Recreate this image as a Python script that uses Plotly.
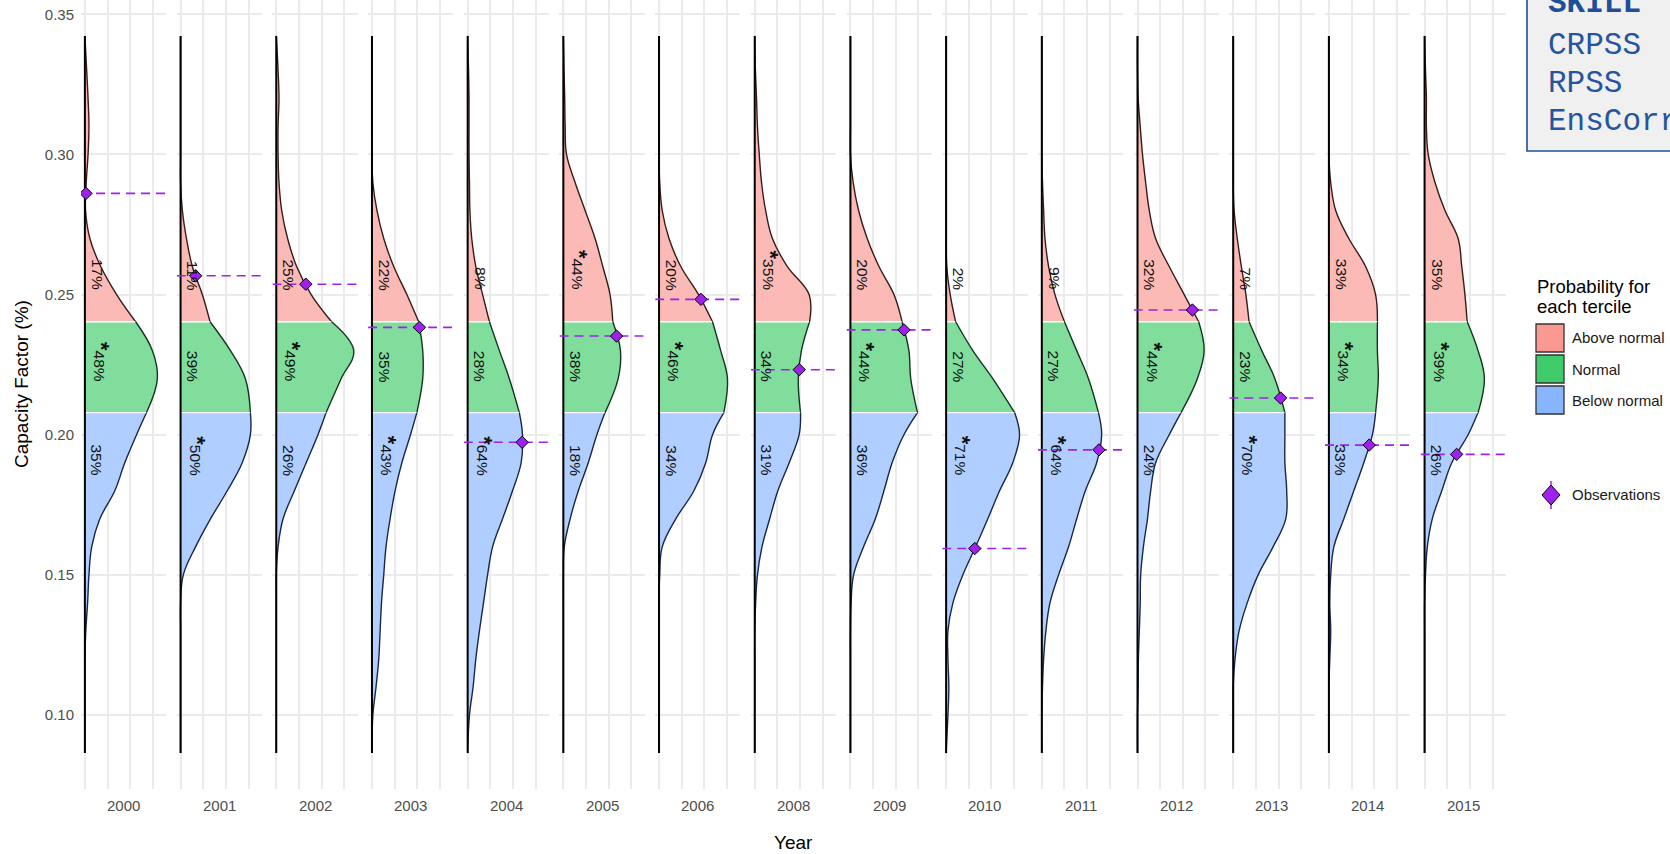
import numpy as np
import plotly.graph_objects as go
from plotly.subplots import make_subplots

# ---------------------------------------------------------------- data
years = ["2000", "2001", "2002", "2003", "2004", "2005", "2006", "2008",
         "2009", "2010", "2011", "2012", "2013", "2014", "2015"]

# capacity-factor levels at which the ensemble density is given
levels = [0.0864, 0.10, 0.11, 0.12, 0.13, 0.14, 0.15, 0.16, 0.17, 0.18, 0.19,
          0.20, 0.2079, 0.22, 0.23, 0.2403, 0.25, 0.26, 0.27, 0.28, 0.29,
          0.30, 0.31, 0.32, 0.33, 0.3423]

# tercile limits of the climatology
tercile_low = 0.2079
tercile_high = 0.2403

# forecast density per year, one value per level
d2000 = [0, 0, 0, 0, 0.2, 0.6, 0.9, 1.5, 3.3, 6.6, 8.8, 11.4, 13.6, 16.0, 14.9, 11.2, 7.0, 3.5, 1.1, 0.15, 0.3, 0.7, 0.9, 0.7, 0.4, 0]
d2001 = [0, 0, 0, 0, 0, 0, 0.6, 3.3, 6.6, 10.3, 13.6, 15.4, 15.4, 14.3, 11.0, 6.5, 4.8, 2.6, 1.3, 0.4, 0, 0, 0, 0, 0, 0]
d2002 = [0, 0, 0, 0, 0, 0, 0, 0.4, 1.5, 4.0, 6.6, 9.2, 11.0, 14.3, 17.1, 12.2, 7.7, 4.5, 2.5, 1.2, 0.6, 0.4, 0.4, 0.6, 0.4, 0]
d2003 = [0, 0.2, 0.9, 1.5, 1.8, 2.1, 2.6, 3.1, 4.0, 5.1, 6.6, 8.5, 9.9, 11.2, 11.2, 10.3, 7.7, 4.8, 2.6, 1.1, 0.2, 0, 0, 0, 0, 0]
d2004 = [0, 0.4, 1.2, 1.8, 2.6, 3.5, 4.4, 5.5, 7.7, 9.9, 11.8, 12.1, 11.4, 9.2, 7.0, 4.8, 3.3, 1.8, 0.9, 0.5, 0.4, 0.3, 0.3, 0.3, 0.2, 0]
d2005 = [0, 0, 0, 0, 0, 0, 0, 0.2, 1.5, 3.3, 5.5, 7.4, 9.2, 12.1, 12.6, 10.9, 10.3, 8.7, 7.0, 4.8, 2.6, 0.7, 0.4, 0.3, 0.15, 0]
d2006 = [0, 0, 0, 0, 0, 0, 0.15, 0.7, 3.7, 7.7, 10.3, 11.8, 14.3, 15.1, 13.6, 11.8, 8.7, 4.8, 2.2, 0.7, 0.15, 0, 0, 0, 0, 0]
d2008 = [0, 0, 0, 0, 0, 0.2, 0.6, 1.6, 3.3, 5.1, 7.6, 9.8, 10.1, 9.6, 10.3, 12.1, 12.0, 7.2, 3.9, 2.4, 1.5, 1.0, 0.6, 0.4, 0.15, 0]
d2009 = [0, 0, 0, 0, 0, 0.15, 0.7, 2.9, 5.5, 7.4, 9.2, 11.8, 14.8, 13.3, 12.9, 11.4, 9.6, 6.3, 3.7, 1.8, 0.6, 0, 0, 0, 0, 0]
d2010 = [0, 0.4, 0.6, 0.4, 0.4, 1.5, 3.7, 6.5, 9.2, 11.8, 14.7, 16.2, 15.1, 10.3, 5.9, 2.1, 0.9, 0.15, 0, 0, 0, 0, 0, 0, 0, 0]
d2011 = [0, 0, 0.15, 0.4, 0.9, 1.8, 3.7, 5.9, 7.7, 9.6, 12.1, 13.2, 12.5, 10.3, 7.7, 5.0, 2.9, 1.5, 0.7, 0.4, 0.15, 0, 0, 0, 0, 0]
d2012 = [0, 0, 0.15, 0.2, 0.4, 0.6, 0.7, 1.3, 2.2, 2.9, 4.0, 7.0, 9.6, 13.2, 14.7, 13.5, 10.3, 7.0, 4.0, 2.6, 1.8, 1.1, 0.6, 0.15, 0, 0]
d2013 = [0, 0, 0, 0.4, 1.3, 3.1, 5.5, 8.8, 11.6, 11.8, 11.4, 11.4, 11.4, 9.2, 6.3, 3.5, 2.8, 1.8, 0.9, 0.2, 0, 0, 0, 0, 0, 0]
d2014 = [0, 0, 0, 0.2, 0.4, 0.2, 0.4, 1.1, 3.3, 5.5, 7.7, 9.6, 10.3, 10.9, 10.7, 10.7, 10.3, 8.1, 4.4, 1.5, 0.4, 0, 0, 0, 0, 0]
d2015 = [0, 0, 0, 0, 0, 0, 0.2, 0.6, 1.7, 3.8, 6.0, 9.6, 11.8, 13.2, 11.8, 9.4, 8.9, 8.2, 7.4, 4.5, 2.3, 0.8, 0.4, 0.4, 0.2, 0]
densities = [d2000, d2001, d2002, d2003, d2004, d2005, d2006, d2008,
             d2009, d2010, d2011, d2012, d2013, d2014, d2015]

# observed capacity factor
observations = [0.2861, 0.2567, 0.2537, 0.2383, 0.1973, 0.2352, 0.2483, 0.2232,
                0.2374, 0.1594, 0.1946, 0.2445, 0.2131, 0.1963, 0.1930]

# forecast probability (%) of each tercile
pct_above = [17, 11, 25, 22, 8, 44, 20, 35, 20, 2, 9, 32, 7, 33, 35]
pct_normal = [48, 39, 49, 35, 28, 38, 46, 34, 44, 27, 27, 44, 23, 34, 39]
pct_below = [35, 50, 26, 43, 64, 18, 34, 31, 36, 71, 64, 24, 70, 33, 26]

skill_scores = ["CRPSS", "RPSS", "EnsCorr"]

# ---------------------------------------------------------------- style
W, H = 1670, 854
ML, MR, MT, MB = 81, 164, 0, 65
PW, PH = W - ML - MR, H - MT - MB

FILL = {"above": "#FBBAB6", "normal": "#80DD9C", "below": "#B0CEFF"}
EDGE = {"above": "#3a1a18", "normal": "#14351e", "below": "#18264a"}
KEY = {"above": "#FA9892", "normal": "#40CB6A", "below": "#88B5FF"}
PURPLE = "#A020F0"
GRID = "#ebebeb"
XR = [-0.855, 17.96]
YR = [0.0736, 0.3551]
FONT = "Liberation Sans, Arial, Helvetica, sans-serif"


def px_x(px):
    return (px - ML) / PW


def px_y(py):
    return (H - MB - py) / PH


n = len(years)
gap = 10.4 / PW
fig = make_subplots(rows=1, cols=n, shared_yaxes=True, horizontal_spacing=gap)

lv = np.array(levels)
for i, yr in enumerate(years):
    col = i + 1
    d = np.array(densities[i], dtype=float)
    segs = [
        ("below", lv <= tercile_low),
        ("normal", (lv >= tercile_low) & (lv <= tercile_high)),
        ("above", lv >= tercile_high),
    ]
    for name, m in segs:
        fig.add_trace(go.Scatter(
            x=d[m], y=lv[m], mode="lines", fill="tozerox",
            fillcolor=FILL[name],
            line=dict(color=EDGE[name], width=1.4, shape="spline", smoothing=1.1),
            hoverinfo="skip", showlegend=False), row=1, col=col)
    # white seams at the tercile limits
    for t in (tercile_low, tercile_high):
        k = levels.index(t)
        fig.add_trace(go.Scatter(
            x=[0, d[k] - 0.1], y=[t, t], mode="lines",
            line=dict(color="white", width=1.3),
            hoverinfo="skip", showlegend=False), row=1, col=col)
    # density baseline
    fig.add_trace(go.Scatter(
        x=[0, 0], y=[levels[0], levels[-1]], mode="lines",
        line=dict(color="black", width=2),
        hoverinfo="skip", showlegend=False), row=1, col=col)
    # observation
    o = observations[i]
    fig.add_trace(go.Scatter(
        x=XR, y=[o, o], mode="lines",
        line=dict(color=PURPLE, width=1.6, dash="9px,6px"),
        hoverinfo="skip", showlegend=False), row=1, col=col)
    fig.add_trace(go.Scatter(
        x=[float(np.interp(o, lv, d))], y=[o], mode="markers",
        marker=dict(symbol="diamond", size=9.5, color=PURPLE,
                    line=dict(color="black", width=1)),
        hoverinfo="skip", showlegend=False), row=1, col=col)

    # tercile probabilities
    probs = [pct_above[i], pct_normal[i], pct_below[i]]
    best = int(np.argmax(probs))
    ends = [0.2508, 0.2181, 0.1846]
    for j, (p, yend) in enumerate(zip(probs, ends)):
        txt = f"{p}%"
        if j == best:
            txt = '<b><span style="font-size:22px">*</span></b>' + txt
        fig.add_annotation(
            x=0.35, y=yend, xanchor="left", yanchor="bottom", textangle=90,
            text=txt, showarrow=False,
            font=dict(family=FONT, size=15.5, color="#111111"),
            row=1, col=col)

    # year label under each panel
    dom = fig.layout[f"xaxis{'' if col == 1 else col}"].domain
    fig.add_annotation(
        x=(dom[0] + dom[1]) / 2, y=px_y(805.5), xref="paper", yref="paper",
        text=yr, showarrow=False, xanchor="center", yanchor="middle",
        font=dict(family=FONT, size=15, color="#4d4d4d"))

fig.update_xaxes(range=XR, tickvals=[0, 5, 10, 15], showticklabels=False,
                 showgrid=True, gridcolor=GRID, gridwidth=1.6, zeroline=False,
                 showline=False, ticks="")
fig.update_yaxes(range=YR, tickvals=[0.10, 0.15, 0.20, 0.25, 0.30, 0.35],
                 ticktext=["0.10", "0.15", "0.20", "0.25", "0.30", "0.35"],
                 showgrid=True, gridcolor=GRID, gridwidth=1.6, zeroline=False,
                 showline=False, ticks="")
fig.update_yaxes(showticklabels=True, ticklabelstandoff=6,
                 tickfont=dict(family=FONT, size=15, color="#4d4d4d"),
                 row=1, col=1)

# axis titles
fig.add_annotation(x=0.5, y=px_y(843), xref="paper", yref="paper", text="Year",
                   xanchor="center", yanchor="middle", showarrow=False,
                   font=dict(family=FONT, size=19, color="black"))
fig.add_annotation(x=px_x(21), y=px_y(384), xref="paper", yref="paper",
                   text="Capacity Factor (%)", textangle=-90, showarrow=False,
                   xanchor="center", yanchor="middle",
                   font=dict(family=FONT, size=19, color="black"))

# ---------------------------------------------------------------- legend
shapes = []
annos = []
annos.append(dict(x=px_x(1535), y=px_y(299), xref="paper", yref="paper",
                  text="Probability for", xanchor="left", yanchor="bottom",
                  showarrow=False, font=dict(family=FONT, size=18.5, color="black")))
annos.append(dict(x=px_x(1535), y=px_y(319), xref="paper", yref="paper",
                  text="each tercile", xanchor="left", yanchor="bottom",
                  showarrow=False, font=dict(family=FONT, size=18.5, color="black")))
keys = [("above", "Above normal", 324), ("normal", "Normal", 355),
        ("below", "Below normal", 386)]
for name, label, top in keys:
    shapes.append(dict(type="rect", xref="paper", yref="paper",
                       x0=px_x(1536), x1=px_x(1564), y0=px_y(top + 28), y1=px_y(top),
                       fillcolor=KEY[name], line=dict(color="#333333", width=1.3)))
    annos.append(dict(x=px_x(1570), y=px_y(top + 14), xref="paper", yref="paper",
                      text=label, xanchor="left", yanchor="middle", showarrow=False,
                      font=dict(family=FONT, size=15, color="#1a1a1a")))

cx, cy = 1551, 495
shapes.append(dict(type="line", xref="paper", yref="paper",
                   x0=px_x(cx), x1=px_x(cx), y0=px_y(481), y1=px_y(509),
                   line=dict(color=PURPLE, width=1.5)))
dpath = (f"M {px_x(cx - 9)} {px_y(cy)} L {px_x(cx)} {px_y(cy - 10)} "
         f"L {px_x(cx + 9)} {px_y(cy)} L {px_x(cx)} {px_y(cy + 10)} Z")
shapes.append(dict(type="path", xref="paper", yref="paper", path=dpath,
                   fillcolor=PURPLE, line=dict(color="black", width=1)))
annos.append(dict(x=px_x(1570), y=px_y(cy), xref="paper", yref="paper",
                  text="Observations", xanchor="left", yanchor="middle",
                  showarrow=False, font=dict(family=FONT, size=15, color="#1a1a1a")))

# ---------------------------------------------------------------- skill box
BLUE = "#24559e"
MONO = "Liberation Mono, Courier New, monospace"
shapes.append(dict(type="rect", xref="paper", yref="paper",
                   x0=px_x(1527), x1=px_x(1720), y0=px_y(151), y1=px_y(-40),
                   fillcolor="#f0f0f0", line=dict(color="#1f4f99", width=1.6)))
annos.append(dict(x=px_x(1546), y=px_y(4), xref="paper", yref="paper",
                  text="<b>SKILL</b>", xanchor="left", yanchor="middle",
                  showarrow=False, font=dict(family=MONO, size=31, color="#1f4f99")))
for k, s in enumerate(skill_scores):
    annos.append(dict(x=px_x(1546), y=px_y(45 + 38.3 * k), xref="paper", yref="paper",
                      text=s, xanchor="left", yanchor="middle", showarrow=False,
                      font=dict(family=MONO, size=31, color=BLUE)))

for s in shapes:
    fig.add_shape(**s)
for a in annos:
    fig.add_annotation(**a)

fig.update_layout(
    width=W, height=H, autosize=False,
    margin=dict(l=ML, r=MR, t=MT, b=MB),
    paper_bgcolor="white", plot_bgcolor="white",
    showlegend=False,
    font=dict(family=FONT),
)

fig.write_html("out.html")
